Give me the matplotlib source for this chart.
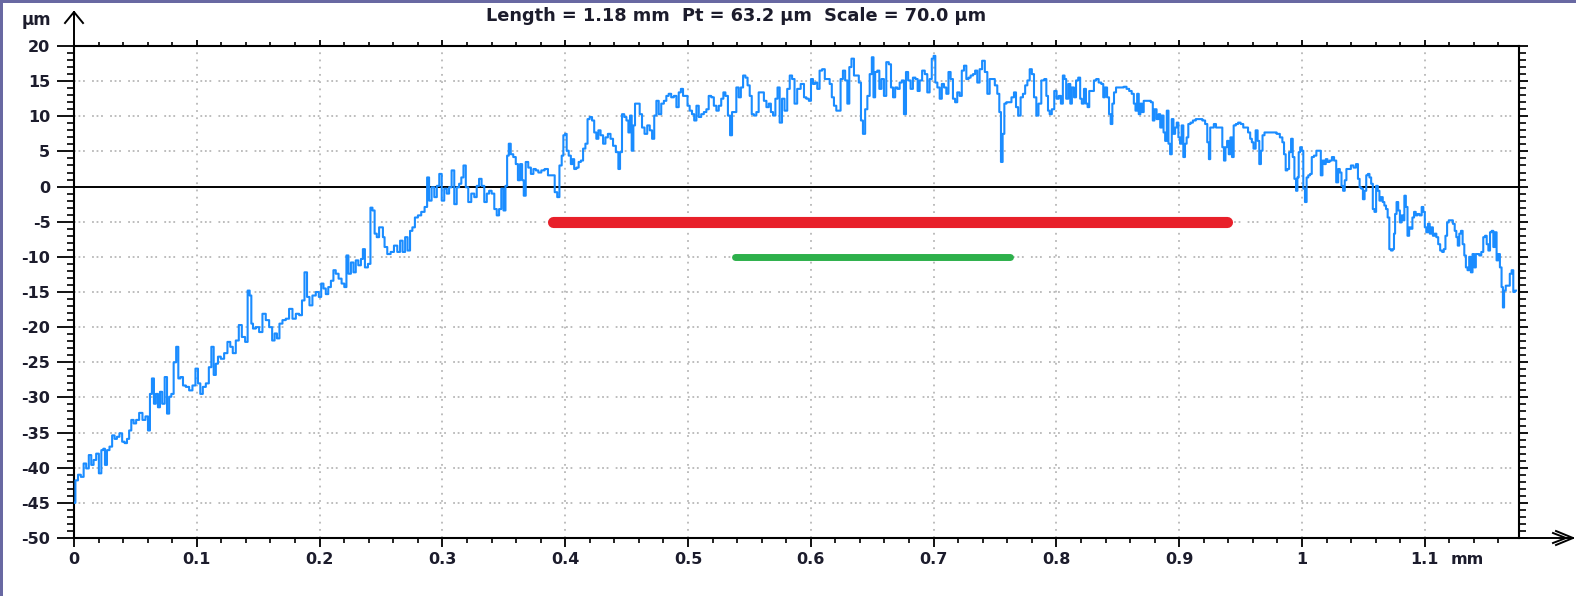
import matplotlib
matplotlib.use("Agg")
import matplotlib.pyplot as plt
from matplotlib.lines import Line2D
from matplotlib.patches import Rectangle
from matplotlib.ticker import MultipleLocator, FixedLocator

# ---------------- data (profile, mm vs µm) ----------------
x_mm = [
 0.0000,0.0023,0.0042,0.0069,0.0088,0.0110,0.0131,0.0150,0.0169,0.0192,0.0213,0.0232,0.0245,0.0259,
 0.0278,0.0300,0.0321,0.0340,0.0359,0.0381,0.0403,0.0422,0.0441,0.0457,0.0476,0.0495,0.0517,0.0544,
 0.0571,0.0593,0.0612,0.0625,0.0644,0.0658,0.0674,0.0693,0.0707,0.0729,0.0748,0.0767,0.0783,0.0802,
 0.0821,0.0843,0.0856,0.0878,0.0897,0.0924,0.0951,0.0978,0.1000,0.1019,0.1038,0.1060,0.1087,0.1109,
 0.1128,0.1147,0.1163,0.1182,0.1209,0.1236,0.1263,0.1282,0.1304,0.1331,0.1353,0.1380,0.1407,0.1421,
 0.1440,0.1448,0.1467,0.1494,0.1521,0.1548,0.1575,0.1603,0.1624,0.1643,0.1662,0.1684,0.1711,0.1738,
 0.1765,0.1793,0.1820,0.1847,0.1866,0.1888,0.1907,0.1928,0.1955,0.1983,0.2004,
 0.2022,0.2041,0.2060,0.2081,0.2103,0.2122,0.2141,0.2168,0.2190,0.2212,0.2225,0.2244,0.2266,0.2285,
 0.2304,0.2326,0.2347,0.2358,0.2380,0.2407,0.2421,0.2440,0.2456,0.2475,0.2494,0.2510,0.2521,0.2537,
 0.2565,0.2592,0.2619,0.2646,0.2665,0.2687,0.2706,0.2727,0.2746,0.2765,0.2787,0.2814,0.2841,0.2869,
 0.2882,0.2901,0.2923,0.2945,0.2964,0.2985,0.3004,0.3026,0.3045,0.3064,0.3086,0.3107,0.3126,0.3146,
 0.3162,0.3181,0.3200,0.3221,0.3249,0.3270,0.3289,0.3308,0.3330,0.3352,0.3371,0.3390,0.3412,0.3433,
 0.3452,0.3471,0.3488,0.3507,0.3520,0.3534,0.3547,0.3566,0.3588,0.3607,0.3623,0.3642,0.3656,0.3669,
 0.3688,0.3710,0.3731,0.3751,0.3770,0.3792,0.3819,0.3846,0.3873,0.3900,0.3929,0.3941,
 0.3965,0.3978,0.3992,0.4005,0.4019,0.4038,0.4054,0.4065,0.4081,0.4100,0.4119,0.4136,0.4155,0.4174,
 0.4190,0.4209,0.4228,0.4244,0.4263,0.4277,0.4299,0.4318,0.4337,0.4358,0.4380,0.4399,0.4426,0.4440,
 0.4453,0.4472,0.4489,0.4508,0.4521,0.4535,0.4548,0.4562,0.4575,0.4597,0.4616,0.4635,0.4657,0.4679,
 0.4698,0.4717,0.4733,0.4752,0.4771,0.4793,0.4814,0.4833,0.4852,0.4874,0.4896,0.4915,0.4934,0.4950,
 0.4969,0.4988,0.5004,0.5023,0.5042,0.5059,0.5078,0.5097,0.5118,0.5140,0.5159,0.5178,0.5200,0.5221,
 0.5241,0.5260,0.5281,0.5295,0.5314,0.5336,0.5349,0.5368,0.5384,0.5403,0.5422,0.5439,0.5458,0.5477,
 0.5493,0.5512,0.5526,0.5547,0.5566,0.5585,0.5607,0.5629,0.5648,0.5667,0.5683,0.5702,0.5721,0.5737,
 0.5756,0.5775,0.5797,0.5819,0.5838,0.5857,0.5878,0.5900,
 0.5935,0.5954,0.5973,0.5995,0.6008,0.6027,0.6043,0.6062,0.6081,0.6103,0.6125,0.6144,0.6163,0.6179,
 0.6198,0.6217,0.6233,0.6252,0.6271,0.6288,0.6307,0.6320,0.6342,0.6361,0.6380,0.6402,0.6415,0.6434,
 0.6451,0.6470,0.6489,0.6505,0.6516,0.6532,0.6551,0.6565,0.6586,0.6605,0.6624,0.6646,0.6660,0.6679,
 0.6695,0.6714,0.6733,0.6749,0.6768,0.6782,0.6803,0.6822,0.6841,0.6863,0.6877,0.6896,0.6917,0.6939,
 0.6958,0.6977,0.6993,0.7007,0.7021,0.7040,0.7059,0.7075,0.7094,0.7113,0.7129,0.7148,0.7167,0.7183,
 0.7202,0.7221,0.7238,0.7257,0.7276,0.7292,0.7311,0.7330,0.7346,0.7365,0.7384,0.7406,0.7428,0.7447,
 0.7466,0.7488,0.7509,0.7528,0.7542,0.7555,0.7569,0.7583,0.7602,0.7623,0.7645,0.7664,0.7678,0.7699,
 0.7718,0.7737,0.7754,0.7773,0.7792,0.7808,0.7827,0.7846,0.7862,
 0.7892,0.7911,0.7925,0.7938,0.7952,0.7973,0.7992,0.8011,0.8027,0.8046,0.8059,0.8073,0.8086,0.8108,
 0.8118,0.8134,0.8153,0.8167,0.8188,0.8199,0.8215,0.8234,0.8247,0.8261,0.8274,0.8296,0.8315,0.8333,
 0.8355,0.8376,0.8387,0.8403,0.8422,0.8435,0.8449,0.8462,0.8476,0.8495,0.8516,0.8538,0.8559,0.8583,
 0.8602,0.8624,0.8637,0.8651,0.8664,0.8677,0.8691,0.8704,0.8718,0.8737,0.8758,0.8780,0.8790,0.8806,
 0.8825,0.8839,0.8852,0.8866,0.8879,0.8892,0.8906,0.8919,0.8933,0.8946,0.8960,0.8973,0.8987,0.9000,
 0.9013,0.9027,0.9040,0.9054,0.9067,0.9081,0.9102,0.9121,0.9148,0.9175,0.9202,0.9220,0.9237,0.9247,
 0.9258,0.9274,0.9290,0.9309,0.9328,0.9344,0.9358,0.9371,0.9382,0.9398,0.9409,0.9425,0.9435,0.9452,
 0.9470,0.9489,0.9511,0.9532,0.9551,0.9570,0.9586,0.9597,0.9613,0.9632,0.9645,0.9659,0.9672,0.9685,
 0.9704,0.9726,0.9753,0.9780,0.9806,0.9833,0.9847,0.9860,0.9874,0.9887,
 0.9903,0.9919,0.9930,0.9946,0.9957,0.9968,0.9978,0.9992,1.0005,1.0016,1.0032,1.0043,1.0059,1.0073,
 1.0086,1.0108,1.0126,1.0145,1.0161,1.0172,1.0188,1.0199,1.0215,1.0234,1.0253,1.0269,1.0288,1.0301,
 1.0315,1.0328,1.0341,1.0355,1.0368,1.0387,1.0409,1.0430,1.0449,1.0462,1.0476,1.0489,1.0503,1.0516,
 1.0530,1.0543,1.0556,1.0570,1.0583,1.0597,1.0610,1.0624,1.0637,1.0651,1.0664,1.0677,1.0691,1.0704,
 1.0718,1.0731,1.0745,1.0753,1.0763,1.0777,1.0790,1.0804,1.0817,1.0828,1.0839,1.0852,1.0866,1.0879,
 1.0892,1.0906,1.0919,1.0933,1.0946,1.0968,1.0981,1.0995,1.1005,1.1019,1.1032,1.1048,1.1059,1.1073,
 1.1086,1.1102,1.1116,1.1134,1.1148,1.1161,1.1175,1.1188,1.1202,1.1220,1.1237,1.1250,1.1263,1.1274,
 1.1288,1.1301,1.1315,1.1328,1.1341,1.1355,1.1368,1.1382,1.1395,1.1409,1.1422,1.1435,1.1452,1.1468,
 1.1484,1.1497,1.1511,1.1524,1.1538,1.1551,1.1565,1.1578,1.1591,1.1605,1.1618,1.1632,1.1640,1.1651,
 1.1667,1.1685,1.1699,1.1715,1.1726,1.1742,
]
z_um = [
 -45.0,-41.8,-41.0,-41.3,-39.4,-40.1,-38.2,-39.6,-38.9,-38.0,-40.8,-37.5,-37.3,-39.6,
 -37.5,-37.0,-35.4,-35.9,-35.6,-35.1,-36.3,-36.5,-35.9,-34.7,-33.2,-33.7,-33.2,-32.2,
 -33.2,-32.7,-34.7,-29.5,-27.3,-30.9,-29.5,-31.4,-29.2,-30.9,-27.1,-32.3,-29.9,-29.5,
 -25.0,-22.8,-27.3,-27.1,-28.3,-28.5,-29.0,-28.3,-25.9,-28.0,-29.5,-28.5,-28.0,-25.7,
 -22.8,-26.8,-25.2,-24.2,-24.5,-23.7,-22.1,-22.8,-23.7,-21.9,-19.7,-21.4,-22.1,-14.8,
 -15.5,-19.5,-20.2,-20.0,-20.7,-18.1,-19.0,-20.0,-21.9,-20.9,-21.6,-19.5,-19.0,-18.8,
 -17.4,-18.8,-18.1,-18.3,-16.2,-12.2,-15.7,-16.9,-15.5,-15.0,-15.7,
 -13.8,-14.5,-15.3,-14.3,-13.4,-11.9,-12.4,-13.1,-13.8,-14.3,-9.8,-12.4,-10.8,-12.2,
 -10.5,-11.2,-10.3,-8.9,-11.5,-11.0,-3.0,-3.4,-6.7,-7.2,-5.8,-5.8,-7.2,-8.6,
 -9.6,-9.3,-8.4,-9.3,-7.7,-9.3,-7.2,-9.1,-6.3,-5.8,-4.4,-4.1,-3.6,-2.9,
 1.3,-2.0,-0.1,-1.5,0.1,1.8,-2.0,-0.3,-1.0,-0.1,2.3,-2.5,-0.1,0.4,
 1.3,3.0,-0.1,-2.2,-1.0,-1.5,0.1,1.1,0.1,-2.2,-1.0,-0.6,-1.0,-3.2,
 -4.1,-3.2,-0.3,-3.4,0.1,4.4,6.1,4.6,4.2,3.2,0.9,3.2,0.9,-1.3,
 3.5,2.7,1.8,2.5,2.3,2.0,2.3,2.5,1.6,1.6,-0.8,-1.5,
 3.0,4.4,7.3,7.5,5.1,4.4,3.2,3.9,2.5,2.7,3.5,3.7,5.4,6.1,
 9.6,9.9,9.4,7.7,6.8,8.0,7.3,6.1,7.0,7.5,6.8,5.8,4.9,2.5,
 4.9,10.3,9.9,9.4,7.7,10.1,5.1,8.7,11.8,11.8,10.3,8.4,7.5,8.7,
 8.0,6.8,10.1,12.2,10.3,11.8,12.2,12.9,13.2,12.7,12.9,11.3,13.4,13.9,
 12.9,12.9,11.5,10.8,10.3,9.4,11.5,9.9,10.3,10.6,11.0,12.9,12.7,11.5,
 10.8,11.5,12.5,13.4,12.9,10.1,7.3,10.6,10.6,14.1,12.7,14.1,15.8,15.5,
 14.4,12.9,10.3,10.1,10.6,13.4,13.4,12.2,11.3,11.8,10.6,10.1,12.5,14.1,
 9.1,12.5,10.8,13.9,15.8,15.3,11.8,13.9,
 14.6,12.7,12.5,12.2,15.3,14.6,14.8,13.9,16.5,16.7,15.3,15.3,14.6,12.7,
 11.5,10.8,10.8,15.3,16.5,15.1,11.8,17.0,18.2,15.8,15.8,14.8,9.4,7.5,
 11.0,12.9,16.0,18.4,12.7,16.3,16.5,13.9,15.3,12.9,17.7,17.4,14.1,12.7,
 14.1,13.9,14.8,15.1,10.3,16.3,15.1,13.9,15.5,15.3,13.6,15.1,16.5,16.0,
 13.4,15.3,18.2,18.6,14.8,14.1,12.5,14.6,14.1,13.2,16.3,15.3,12.5,12.0,
 13.4,12.9,16.5,17.2,15.3,15.5,15.8,16.0,16.5,14.8,16.7,17.9,16.3,13.2,
 15.3,15.3,14.4,13.2,10.6,3.5,7.5,11.8,12.0,12.0,12.7,13.4,11.3,10.1,
 12.7,13.2,14.4,15.1,16.7,16.0,12.7,10.1,11.8,
 15.1,15.3,12.9,10.8,10.3,11.0,13.6,12.5,12.9,11.8,15.8,15.3,12.5,14.6,
 11.8,14.1,12.7,15.1,15.5,12.5,11.8,13.9,11.8,11.3,13.6,13.6,15.1,15.3,
 14.8,14.6,12.7,14.1,12.7,10.3,8.9,11.8,13.4,14.1,14.1,14.1,14.2,13.9,
 13.6,13.2,11.8,10.8,13.2,10.3,11.8,10.6,12.2,12.2,12.2,12.0,9.4,11.0,
 9.6,10.3,8.4,10.1,7.7,6.5,10.8,6.1,4.6,9.6,7.5,8.4,9.1,7.0,
 6.1,8.7,4.2,6.1,7.0,8.9,9.1,9.4,9.6,9.6,9.4,8.9,6.3,3.9,
 8.4,8.4,8.9,8.4,8.4,8.4,5.6,3.7,5.6,6.5,4.6,7.0,4.2,8.7,
 8.9,9.1,8.9,8.4,8.4,7.7,6.8,6.3,5.4,8.0,6.5,3.2,5.1,7.3,
 7.7,7.7,7.7,7.7,7.5,7.0,6.3,4.6,2.3,2.5,
 4.9,6.8,4.2,1.1,-0.6,1.3,4.9,5.6,5.1,-0.3,-2.2,1.3,1.6,1.8,
 4.2,4.4,5.1,5.1,1.6,3.7,3.2,3.9,3.5,3.7,4.2,3.7,0.6,2.5,
 2.0,0.1,-0.6,0.9,2.5,2.5,3.0,2.7,3.2,1.1,-0.1,-0.3,-1.8,-0.6,
 1.6,1.8,1.3,0.4,-3.2,-3.6,0.1,-0.6,-2.0,-1.5,-2.2,-2.7,-3.2,-4.4,
 -8.9,-9.1,-8.9,-6.7,-3.9,-2.2,-3.4,-5.1,-4.1,-4.8,-1.3,-2.9,-7.0,-5.8,
 -6.0,-4.4,-3.6,-4.1,-3.9,-4.1,-2.9,-3.6,-5.8,-6.5,-5.3,-6.7,-5.8,-7.0,
 -6.7,-7.2,-8.2,-9.1,-9.3,-8.9,-7.0,-5.1,-4.8,-4.8,-5.3,-6.3,-7.2,-8.4,
 -6.7,-6.3,-8.2,-9.8,-11.5,-11.9,-10.0,-12.2,-9.6,-11.5,-9.6,-9.6,-9.8,-9.3,
 -7.2,-7.0,-8.2,-9.1,-6.5,-6.3,-8.6,-6.5,-10.5,-9.6,-11.5,-14.3,-17.2,-14.8,
 -14.1,-14.1,-12.4,-11.9,-15.0,-14.8,
]

# evaluation lengths (red / green bars)
red_x = [0.390, 0.939]
red_z = [-5.0, -5.0]
green_x = [0.538, 0.762]
green_z = [-10.0, -10.0]

title_text = "Length = 1.18 mm  Pt = 63.2 \u00b5m  Scale = 70.0 \u00b5m"
x_ticks = [0, 0.1, 0.2, 0.3, 0.4, 0.5, 0.6, 0.7, 0.8, 0.9, 1.0, 1.1]
x_ticklabels = ["0", "0.1", "0.2", "0.3", "0.4", "0.5", "0.6", "0.7", "0.8", "0.9", "1", "1.1"]
y_ticks = list(range(-50, 21, 5))
y_ticklabels = [str(v) for v in y_ticks]

# ---------------- figure ----------------
W, H = 1576, 596
plt.rcParams['font.family'] = ['DejaVu Sans']
FS = 11.5
TXT = dict(fontweight='bold', color='#1c1c2c')
fig = plt.figure(figsize=(W / 100, H / 100), dpi=100)
fig.patch.set_facecolor('white')

L, R, T, B = 74, 1519, 46, 538
ax = fig.add_axes([L / W, 1 - B / H, (R - L) / W, (B - T) / H])
ax.set_xlim(0, 1.1767)
ax.set_ylim(-50, 20)

grid_c = '#b8b8b8'
for xv in x_ticks[1:]:
    ax.axvline(xv, color=grid_c, lw=1.3, ls=(0, (1, 3)), zorder=1)
for yv in y_ticks:
    if yv not in (-50, 0, 20):
        ax.axhline(yv, color=grid_c, lw=1.3, ls=(0, (1, 1.5, 1, 1.5, 1, 4)), zorder=1)
ax.axhline(0, color='black', lw=1.4, zorder=2)

ax.plot(x_mm, z_um, color='#1a8cff', lw=1.5, drawstyle='steps-mid', zorder=3)
ax.plot(red_x, red_z, color='#e8202a', lw=8, solid_capstyle='round', zorder=4)
ax.plot(green_x, green_z, color='#2db04b', lw=5, solid_capstyle='round', zorder=4)

for s in ax.spines.values():
    s.set_linewidth(1.5)
    s.set_color('black')

ax.xaxis.set_major_locator(FixedLocator(x_ticks))
ax.set_xticklabels(x_ticklabels, **TXT)
ax.xaxis.set_minor_locator(MultipleLocator(0.02))
ax.yaxis.set_major_locator(FixedLocator(y_ticks))
ax.set_yticklabels(y_ticklabels, **TXT)
ax.yaxis.set_minor_locator(MultipleLocator(1))

ax.tick_params(axis='x', which='major', direction='out', length=6.3, width=1.3,
               top=True, bottom=True, labelsize=FS, pad=4)
ax.tick_params(axis='x', which='minor', direction='out', length=3.5, width=1.2, top=True, bottom=True)
ax.tick_params(axis='y', which='major', direction='out', length=12, width=1.3,
               left=True, right=True, labelsize=FS, pad=5)
ax.tick_params(axis='y', which='minor', direction='out', length=5, width=1.2, left=True, right=True)
for t in ax.xaxis.get_major_ticks():
    t.tick2line.set_markersize(4.5)
for t in ax.xaxis.get_minor_ticks():
    t.tick2line.set_markersize(3)
for t in ax.yaxis.get_major_ticks():
    t.tick2line.set_markersize(6.7)

ax.annotate('mm', xy=(1.1, 0), xycoords=('data', 'axes fraction'),
            xytext=(18.5, -10.3), textcoords='offset points', ha='left', va='top',
            fontsize=FS, **TXT)

# ---------------- decorations ----------------
def fx(px):
    return px / W

def fy(py):
    return 1 - py / H

deco = dict(transform=fig.transFigure, color='black', lw=1.4)
fig.add_artist(Line2D([fx(74), fx(74)], [fy(46), fy(12)], **deco))
fig.add_artist(Line2D([fx(65), fx(74), fx(83)], [fy(23), fy(12), fy(23)], **deco))
fig.add_artist(Line2D([fx(1519), fx(1573)], [fy(538), fy(538)], **deco))
fig.add_artist(Line2D([fx(1556), fx(1573), fx(1556)], [fy(531), fy(538), fy(545)], **deco))
fig.add_artist(Line2D([fx(1553), fx(1566), fx(1553)], [fy(533), fy(538), fy(543)], **deco))

fig.text(fx(36), fy(20), '\u00b5m', fontsize=FS + 0.5, ha='center', va='center', **TXT)
fig.text(fx(736), fy(16), title_text, fontsize=12.8, ha='center', va='center', **TXT)

frame_c = '#6868a2'
fig.add_artist(Rectangle((0, 0), 3 / W, 1, transform=fig.transFigure, color=frame_c, lw=0))
fig.add_artist(Rectangle((0, 1 - 3 / H), 1, 3 / H, transform=fig.transFigure, color=frame_c, lw=0))

fig.savefig('out.png', dpi=100, facecolor='white')
